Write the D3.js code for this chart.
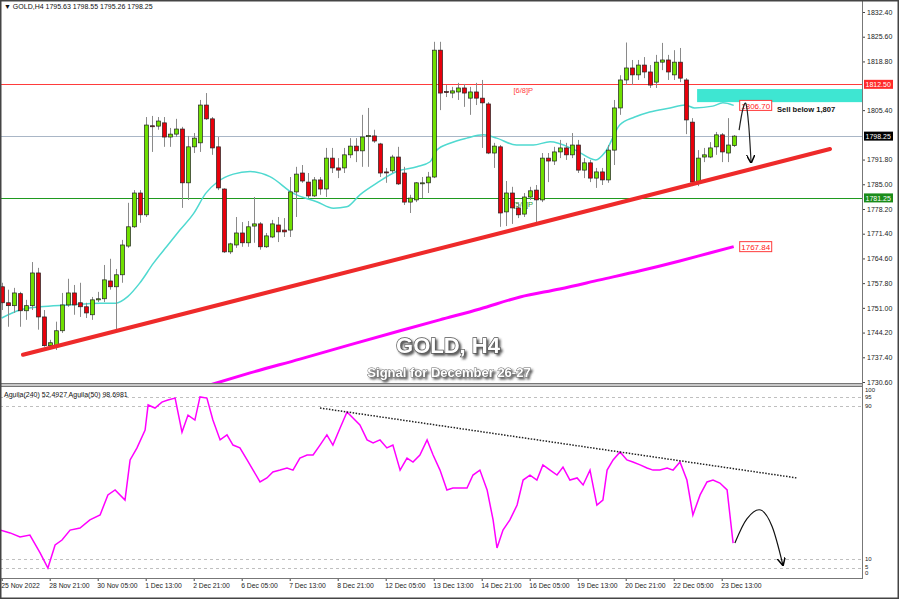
<!DOCTYPE html>
<html><head><meta charset="utf-8">
<script src="https://cdn.jsdelivr.net/npm/d3@7"></script>
<style>body{margin:0;background:#fff}svg{display:block}</style>
</head><body><svg id="c" width="900" height="600"></svg>
<script>
// ---------- DATA ----------
const opens=[1756.8,1752.4,1751.6,1754.9,1750.2,1751.6,1760.6,1748.5,1740.6,1740.6,1744.7,1751.8,1755.1,1752.4,1751.3,1749.1,1753.2,1753.5,1758.4,1756.8,1760.1,1768.0,1773.3,1782.6,1776.6,1801.1,1801.0,1801.9,1798.0,1798.8,1800.2,1785.4,1795.3,1796.4,1806.8,1803.0,1795.3,1783.7,1766.4,1768.3,1771.6,1768.9,1773.5,1774.1,1767.8,1770.5,1773.8,1772.4,1772.4,1782.9,1788.1,1785.6,1781.8,1786.2,1783.7,1792.2,1789.5,1789.5,1793.1,1795.5,1794.2,1798.1,1798.3,1796.1,1788.4,1788.7,1792.5,1788.1,1780.1,1780.7,1785.2,1785.4,1787.0,1821.9,1810.5,1810.1,1810.4,1811.5,1808.7,1810.4,1808.7,1807.1,1793.6,1795.3,1777.4,1782.6,1778.5,1776.8,1781.5,1783.4,1780.7,1792.2,1791.4,1793.9,1795.0,1793.1,1795.8,1788.9,1790.9,1786.7,1788.4,1786.2,1794.4,1806.0,1813.7,1817.0,1815.1,1817.8,1815.9,1813.1,1818.6,1819.2,1815.1,1818.6,1813.7,1802.1,1785.6,1792.5,1792.5,1795.3,1798.6,1793.6,1795.63];
const highs=[1757.9,1756.0,1756.5,1755.4,1753.2,1763.6,1762.0,1750.4,1742.2,1747.2,1755.1,1759.0,1757.3,1757.9,1752.4,1754.0,1755.4,1762.8,1764.5,1761.7,1769.7,1779.9,1783.4,1783.4,1803.5,1803.8,1803.5,1803.5,1800.5,1803.0,1800.8,1798.3,1799.1,1808.2,1810.1,1803.5,1798.0,1783.9,1768.9,1776.0,1774.6,1774.9,1781.5,1774.6,1771.6,1775.2,1776.0,1775.7,1787.0,1789.8,1790.3,1788.1,1787.0,1787.0,1795.0,1795.0,1792.2,1795.0,1797.7,1797.7,1804.1,1806.0,1800.0,1796.4,1789.5,1793.1,1795.3,1789.8,1782.1,1785.6,1787.0,1788.4,1824.2,1824.2,1812.3,1811.8,1812.9,1812.6,1811.8,1812.9,1813.7,1807.6,1796.4,1795.8,1785.9,1784.3,1779.9,1782.6,1784.3,1784.8,1793.6,1793.6,1795.3,1797.2,1796.4,1799.1,1797.2,1792.2,1791.7,1789.5,1789.5,1795.8,1808.2,1815.0,1824.0,1819.2,1819.2,1820.0,1817.8,1820.6,1823.9,1820.6,1821.9,1822.5,1814.2,1803.2,1794.4,1795.0,1796.6,1799.4,1799.1,1803.2,1798.55];
const lows=[1750.4,1745.8,1749.6,1745.8,1747.7,1750.4,1745.0,1740.3,1740.0,1739.4,1744.1,1751.3,1749.1,1748.5,1748.2,1747.7,1752.6,1752.6,1756.0,1745.0,1757.9,1767.5,1773.0,1774.4,1776.0,1793.9,1800.0,1795.3,1795.3,1798.0,1778.5,1780.7,1793.6,1793.9,1802.7,1793.1,1783.4,1766.1,1765.8,1767.5,1767.8,1767.8,1768.9,1767.0,1767.5,1770.2,1769.1,1770.5,1770.5,1776.0,1785.4,1781.2,1781.5,1782.1,1781.5,1788.1,1786.7,1788.1,1792.2,1791.1,1789.8,1789.8,1796.4,1787.0,1785.4,1788.1,1784.8,1779.3,1777.1,1780.1,1781.2,1782.6,1786.7,1805.4,1809.0,1808.7,1808.2,1806.3,1804.1,1806.8,1795.0,1793.3,1789.5,1773.3,1773.5,1774.1,1775.7,1776.0,1780.7,1774.4,1780.1,1785.6,1790.3,1792.2,1791.7,1792.2,1788.1,1786.7,1785.6,1784.0,1784.8,1785.4,1790.3,1804.1,1812.3,1812.3,1813.7,1814.2,1811.5,1811.5,1816.4,1813.7,1813.7,1813.1,1798.8,1784.5,1784.5,1791.1,1792.2,1793.1,1791.1,1791.1,1795.26];
const closes=[1752.4,1751.6,1755.1,1750.2,1751.6,1760.6,1748.5,1740.6,1741.4,1744.7,1751.8,1755.1,1751.8,1751.3,1749.6,1753.2,1753.5,1758.7,1756.8,1760.1,1768.3,1773.3,1782.6,1776.6,1801.3,1801.0,1802.4,1798.0,1798.8,1800.2,1785.4,1795.3,1797.7,1806.8,1803.0,1795.0,1784.0,1766.4,1768.6,1771.6,1768.9,1773.3,1774.1,1767.8,1770.8,1774.1,1771.9,1771.9,1782.9,1787.8,1785.9,1781.8,1786.2,1783.7,1792.2,1789.5,1788.9,1793.1,1795.5,1794.2,1798.0,1798.4,1796.9,1788.1,1788.3,1792.5,1785.1,1780.1,1781.2,1785.4,1785.4,1787.0,1821.9,1810.1,1810.3,1810.7,1811.5,1810.1,1810.4,1808.7,1807.4,1793.6,1795.5,1777.1,1782.6,1778.5,1776.6,1781.5,1783.2,1780.7,1792.2,1791.4,1793.9,1795.0,1793.1,1795.8,1788.9,1790.9,1786.7,1788.4,1786.2,1794.4,1806.0,1813.7,1817.0,1815.1,1817.8,1815.9,1812.3,1818.6,1819.2,1815.9,1818.6,1814.2,1802.7,1785.6,1792.2,1793.1,1795.0,1798.6,1793.9,1795.8,1798.25];

const maFastIdx=[0,3,6.4,11,16.4,19,21,23,25.3,27.5,29.7,32,34,36,38.6,41.4,44.7,48.6,52.5,55.3,57.5,59.7,62.5,65.8,69.2,71.4,72.5,74.7,77.5,80.3,82.5,85.8,88.6,91.4,95.6,99,100.6,103,105.5,108,111.4,113.9,115.5,118.5,120.2,122];
const maFastVal=[1748.2,1750.4,1751.3,1751.8,1752.3,1752.3,1754.1,1757.8,1763.3,1767.9,1772.4,1777.0,1782.5,1785.7,1787.8,1788.5,1787.1,1782.5,1780.2,1778.4,1778.8,1782.1,1785.3,1788.5,1789.8,1791.2,1794.4,1796.3,1797.7,1798.6,1797.7,1795.8,1795.8,1796.7,1794.4,1791.7,1793.9,1801.3,1803.5,1804.9,1806.0,1806.8,1806.0,1806.5,1807.4,1806.7];
const maSlowIdx=[34.7,41.4,49.7,58,66.4,73,79.7,86.4,93,99.7,106.4,113,118,122];
const maSlowVal=[1729.8,1733.1,1736.9,1740.8,1744.7,1747.7,1750.7,1754.0,1756.2,1758.7,1761.2,1763.9,1766.1,1767.84];

const aguilaIdx=[-0.3,1.4,3.05,4.7,6.4,7.7,8.9,10.05,11.4,13.05,14.7,16.4,17.7,18.9,20.55,21.4,22.55,23.9,24.4,25.55,26.7,27.7,28.9,30.05,31.05,32.2,33.05,34.2,35.2,36.4,37.55,38.55,39.7,40.9,41.9,43.05,44.2,45.2,46.4,47.55,48.55,49.7,50.9,51.9,53.05,54.2,55.2,56.4,57.55,58.55,59.7,60.9,61.9,63.05,64.2,65.2,66.4,67.55,68.55,69.7,70.9,71.9,73.05,74.2,75.2,76.4,77.55,78.55,79.7,80.9,81.9,82.55,83.55,84.7,85.9,86.9,88.05,89.2,90.2,91.4,92.55,93.55,94.7,95.9,96.9,98.05,99.2,100.2,100.9,101.9,103.05,104.2,105.2,106.4,107.55,108.55,109.7,110.9,111.9,113.05,114.2,115.2,116.4,117.55,118.55,119.7,120.9,121.9];
const aguilaVal=[25.1,23.6,21.5,22.5,13.1,5.2,17.3,19.9,25.1,26.2,30.4,33.0,43.5,46.1,40.8,61.8,68.1,77.5,90.6,89.0,92.1,93.2,94.2,76.4,85.3,82.7,94.8,94.2,82.7,72.3,74.9,69.6,68.1,61.8,56.5,50.3,52.4,55.5,56.5,57.6,56.5,62.8,64.4,64.4,69.6,74.9,69.6,78.5,86.9,83.8,80.1,72.3,70.7,72.3,68.1,69.6,56.5,62.8,60.7,64.4,72.3,64.4,56.5,46.1,47.1,47.1,47.1,53.9,56.5,46.1,30.4,15.7,25.1,30.4,38.2,51.3,53.9,51.3,59.2,56.5,53.9,58.1,51.3,52.4,48.7,56.5,38.2,40.8,56.5,61.8,66.0,61.8,60.7,59.2,57.6,56.5,56.5,57.6,56.5,60.7,51.3,33.0,43.5,50.3,51.3,49.7,46.1,18.3];

const priceTicks=[1832.40,1825.60,1818.80,1805.40,1791.80,1785.00,1778.20,1771.40,1764.60,1757.80,1751.00,1744.20,1737.40,1730.60];
const tickIdx=[0,8,16,24,32,40,48,56,64,72,80,88,96,104,112,120];
const tickLabels=["25 Nov 2022","28 Nov 21:00","30 Nov 05:00","1 Dec 13:00","2 Dec 21:00","6 Dec 05:00","7 Dec 13:00","8 Dec 21:00","12 Dec 05:00","13 Dec 13:00","14 Dec 21:00","16 Dec 05:00","19 Dec 13:00","20 Dec 21:00","22 Dec 05:00","23 Dec 13:00"];
const indLevels=[100,95,90,10,5,0];
const indLabelBase=[392,399,408,561,568.5,575];
const indDashed=[95,90,10,5];

const levelRed=1812.50, levelCur=1798.25, levelGreen=1781.25;
const sellZone={start:115.9, top:1811.2, bottom:1807.6};
const trendPts=[[3.55,1738.1],[138.05,1794.7]];
const arrowMainPts=[[122.9,1799.9],[123.5,1805.5],[124.05,1807.1],[124.5,1801.3],[124.9,1791.0]];
const indTrendPts=[[53.05,89.0],[132.5,52.4]];
const arrowIndPts=[[122.2,18.3],[124.2,31],[126.5,35.6],[128.4,27],[130.2,6.8]];

// ---------- SCALES ----------
const svg=d3.select('#c');
const FONT='"Liberation Sans", Arial, sans-serif';
const PR=862;
const x=d3.scaleLinear().domain([0,143]).range([1.7,1.7+6*143]);
const y=d3.scaleLinear().domain([1730.6,1832.4]).range([382,12]);
const yi=d3.scaleLinear().domain([0,100]).range([578,387]);

const defs=svg.append('defs');
defs.append('clipPath').attr('id','cm').append('rect').attr('x',0).attr('y',1).attr('width',PR).attr('height',382);
defs.append('clipPath').attr('id','ci').append('rect').attr('x',0).attr('y',387).attr('width',PR).attr('height',191);
const f=defs.append('filter').attr('id','sh').attr('x','-10%').attr('y','-30%').attr('width','130%').attr('height','180%');
f.append('feDropShadow').attr('dx',2).attr('dy',2).attr('stdDeviation',1.2).attr('flood-color','#333').attr('flood-opacity',0.8);
defs.append('marker').attr('id','ah').attr('viewBox','0 0 10 10').attr('refX',9).attr('refY',5)
  .attr('markerWidth',7).attr('markerHeight',7).attr('orient','auto')
  .append('path').attr('d','M0,0 L10,5 L0,10').attr('fill','none').attr('stroke','#000').attr('stroke-width',1.8);

svg.append('rect').attr('width',900).attr('height',600).attr('fill','#fff');

// ---------- MAIN PANEL ----------
const gm=svg.append('g').attr('clip-path','url(#cm)');
function hline(v,col){gm.append('line').attr('x1',0).attr('x2',PR).attr('y1',Math.round(y(v))+0.5).attr('y2',Math.round(y(v))+0.5).attr('stroke',col).attr('stroke-width',1);}
hline(levelRed,'#ff3b3b');
hline(levelCur,'#a9b6c6');
hline(levelGreen,'#1f9a1f');
gm.append('text').attr('x',533).attr('y',y(levelRed)+9).attr('text-anchor','end').attr('font-family',FONT).attr('font-size',7.5).attr('fill','#ff3b3b').text('[6/8]P');
gm.append('text').attr('x',533).attr('y',y(levelGreen)+9).attr('text-anchor','end').attr('font-family',FONT).attr('font-size',7.5).attr('fill','#1f9a1f').text('[5/8]P');

gm.append('rect').attr('x',x(sellZone.start)).attr('y',y(sellZone.top)).attr('width',PR-x(sellZone.start)).attr('height',y(sellZone.bottom)-y(sellZone.top)).attr('fill','#3ee6d2');

const lineGen=d3.line().curve(d3.curveMonotoneX);
gm.append('path').attr('d',lineGen(maSlowIdx.map((d,i)=>[x(d),y(maSlowVal[i])]))).attr('fill','none').attr('stroke','#ff00ff').attr('stroke-width',3);
gm.append('path').attr('d',lineGen(maFastIdx.map((d,i)=>[x(d),y(maFastVal[i])]))).attr('fill','none').attr('stroke','#4fd9d0').attr('stroke-width',1.5);

// candles
const cg=gm.append('g');
opens.forEach((o,i)=>{
  const c=closes[i],h=highs[i],l=lows[i];
  const cx=Math.round(x(i))+0.5;
  cg.append('line').attr('x1',cx).attr('x2',cx).attr('y1',y(h)).attr('y2',y(l)).attr('stroke','#8a8a8a').attr('stroke-width',1);
  const top=y(Math.max(o,c)), bot=y(Math.min(o,c));
  cg.append('rect').attr('x',cx-2).attr('y',top).attr('width',4).attr('height',Math.max(1,bot-top))
    .attr('fill',c>=o?'#6fe000':'#e8000b').attr('stroke','#222').attr('stroke-width',0.7);
});

gm.append('line').attr('x1',x(trendPts[0][0])).attr('y1',y(trendPts[0][1])).attr('x2',x(trendPts[1][0])).attr('y2',y(trendPts[1][1]))
  .attr('stroke','#ee2a2a').attr('stroke-width',4).attr('stroke-linecap','round');

// MA end labels
function maLabel(v){
  const lx=x(122)+6, ly=y(v);
  gm.append('rect').attr('x',lx).attr('y',ly-5).attr('width',32).attr('height',10).attr('fill','#fff').attr('stroke','#ff3b3b').attr('stroke-width',1);
  gm.append('text').attr('x',lx+16).attr('y',ly+3.2).attr('text-anchor','middle').attr('font-family',FONT).attr('font-size',8).attr('fill','#ff2020').text(v.toFixed(2));
}
maLabel(maFastVal[maFastVal.length-1]);
maLabel(maSlowVal[maSlowVal.length-1]);
gm.append('text').attr('x',777).attr('y',y(1806.7)+6.5).attr('font-family',FONT).attr('font-weight','bold').attr('font-size',7.6).attr('fill','#111').text('Sell below 1,807');

gm.append('path').attr('d',d3.line().curve(d3.curveCardinal)(arrowMainPts.map(p=>[x(p[0]),y(p[1])])))
  .attr('fill','none').attr('stroke','#222').attr('stroke-width',1.2).attr('marker-end','url(#ah)');

// titles
svg.append('text').attr('x',448).attr('y',353).attr('text-anchor','middle').attr('font-family',FONT).attr('font-weight','bold').attr('font-size',22)
  .attr('fill','#fff').attr('stroke','#555').attr('stroke-width',1.3).attr('paint-order','stroke').attr('filter','url(#sh)').text('GOLD, H4');
svg.append('text').attr('x',449).attr('y',377).attr('text-anchor','middle').attr('font-family',FONT).attr('font-weight','bold').attr('font-size',13)
  .attr('fill','#fff').attr('stroke','#666').attr('stroke-width',0.9).attr('paint-order','stroke').attr('filter','url(#sh)').text('Signal for December 26-27');

// header
svg.append('text').attr('x',4).attr('y',8.5).attr('font-family',FONT).attr('font-size',7).attr('fill','#111')
  .text('\u25BC GOLD,H4  1795.63 1798.55 1795.26 1798.25');

// price axis
const ay=svg.append('g').attr('transform',`translate(${PR},0)`).call(d3.axisRight(y).tickValues(priceTicks).tickSize(3).tickFormat(d3.format('.2f')));
ay.select('.domain').remove();
ay.selectAll('line').attr('stroke','#444');
ay.selectAll('text').attr('font-family',FONT).attr('font-size',7).attr('fill','#222').attr('x',5);
function priceBox(v,bg){
  const py=y(v);
  svg.append('rect').attr('x',864).attr('y',py-4.5).attr('width',29).attr('height',9).attr('fill',bg);
  svg.append('text').attr('x',865.5).attr('y',py+2.6).attr('font-family',FONT).attr('font-size',7).attr('fill','#fff').text(v.toFixed(2));
}
priceBox(levelRed,'#ff2a2a');
priceBox(levelCur,'#000');
priceBox(levelGreen,'#1a8c1a');

// ---------- INDICATOR PANEL ----------
const gi=svg.append('g').attr('clip-path','url(#ci)');
indDashed.forEach(v=>{
  gi.append('line').attr('x1',0).attr('x2',PR).attr('y1',Math.round(yi(v))+0.5).attr('y2',Math.round(yi(v))+0.5)
    .attr('stroke','#bfbfbf').attr('stroke-dasharray','3,3');
});
gi.append('path').attr('d',d3.line()(aguilaIdx.map((d,i)=>[x(d),yi(aguilaVal[i])]))).attr('fill','none').attr('stroke','#ff00ff').attr('stroke-width',1.5);
gi.append('line').attr('x1',x(indTrendPts[0][0])).attr('y1',yi(indTrendPts[0][1])).attr('x2',x(indTrendPts[1][0])).attr('y2',yi(indTrendPts[1][1]))
  .attr('stroke','#222').attr('stroke-width',1.5).attr('stroke-dasharray','1.5,1.5');
gi.append('path').attr('d',d3.line().curve(d3.curveCardinal)(arrowIndPts.map(p=>[x(p[0]),yi(p[1])])))
  .attr('fill','none').attr('stroke','#111').attr('stroke-width',1.2).attr('marker-end','url(#ah)');
svg.append('text').attr('x',4).attr('y',397).attr('font-family',FONT).attr('font-size',7).attr('fill','#111')
  .text('Aguila(240) 52.4927  Aguila(50) 98.6981');
indLevels.forEach((v,i)=>{
  svg.append('text').attr('x',865).attr('y',indLabelBase[i]).attr('font-family',FONT).attr('font-size',6).attr('fill','#222').text(v);
});

// x axis
const ax=svg.append('g').attr('transform','translate(0,578)').call(d3.axisBottom(x).tickValues(tickIdx).tickSize(3).tickFormat((d,i)=>tickLabels[i]));
ax.select('.domain').remove();
ax.selectAll('line').attr('stroke','#444');
ax.selectAll('text').attr('font-family',FONT).attr('font-size',6.8).attr('fill','#222').attr('text-anchor','start').attr('x',-1).attr('dy','0.55em');

// ---------- FRAMES ----------
svg.append('rect').attr('x',0).attr('y',383).attr('width',PR+1).attr('height',3.5).attr('fill','#c8c8c8');
svg.append('line').attr('x1',0).attr('x2',PR).attr('y1',383.5).attr('y2',383.5).attr('stroke','#777');
svg.append('line').attr('x1',0).attr('x2',PR).attr('y1',386.5).attr('y2',386.5).attr('stroke','#777');
svg.append('line').attr('x1',PR+0.5).attr('x2',PR+0.5).attr('y1',1).attr('y2',578).attr('stroke','#777');
svg.append('line').attr('x1',0).attr('x2',PR+1).attr('y1',578.5).attr('y2',578.5).attr('stroke','#777');
svg.append('rect').attr('x',0.75).attr('y',0.75).attr('width',897.5).attr('height',597.5).attr('fill','none').attr('stroke','#444').attr('stroke-width',1.5);
</script>
</body></html>
